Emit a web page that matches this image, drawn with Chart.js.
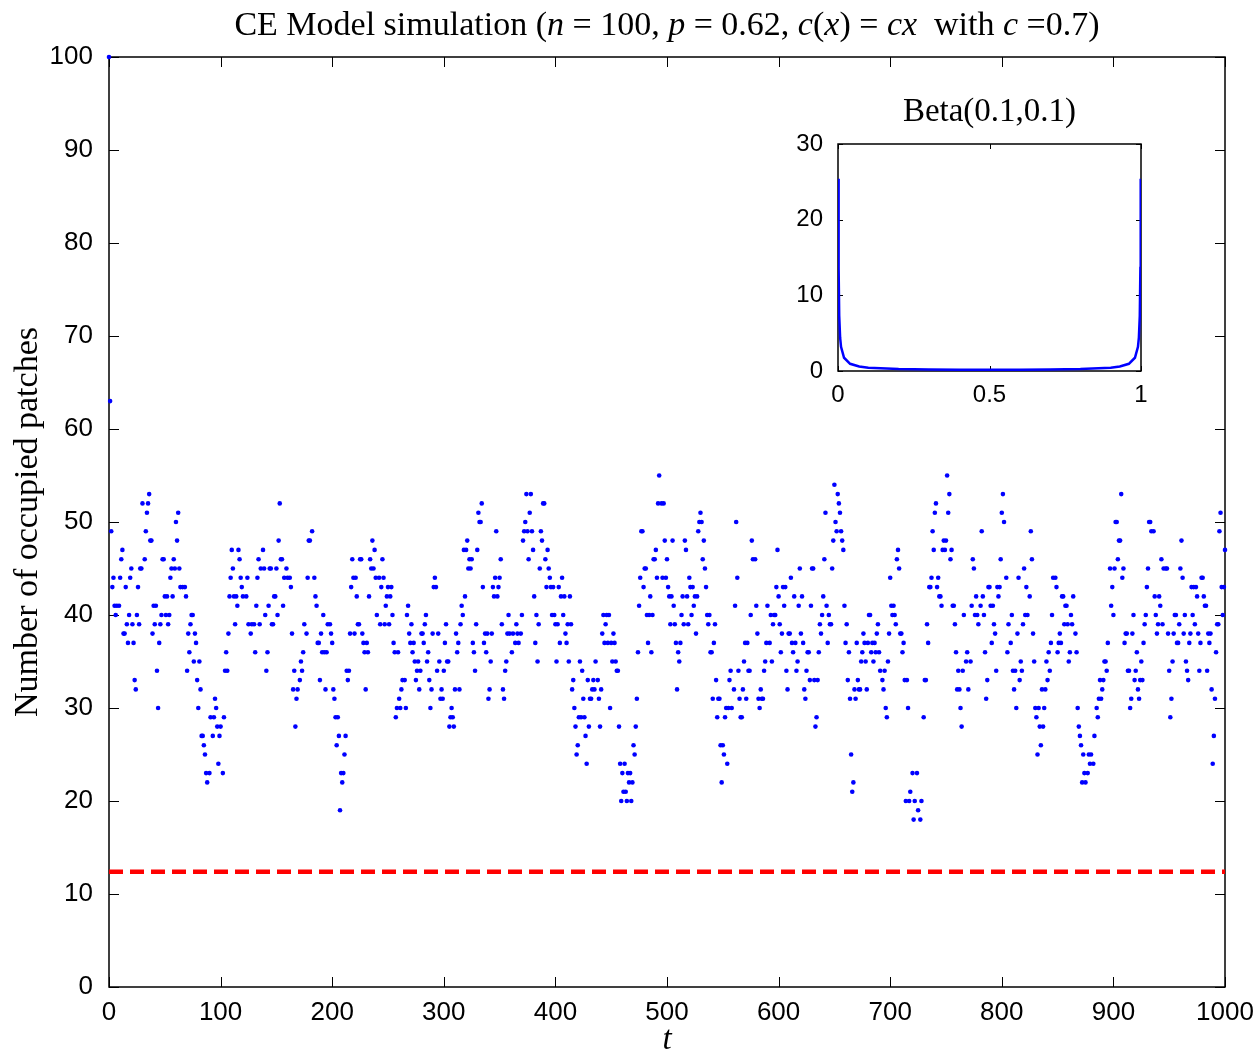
<!DOCTYPE html>
<html>
<head>
<meta charset="utf-8">
<script src="https://cdn.jsdelivr.net/npm/chart.js@4"></script>
<style>
  body { margin: 0; background: #fff; }
  #wrap { position: relative; width: 1260px; height: 1054px; }
  #main { position: absolute; left: 0; top: 0; }
  #inset { position: absolute; left: 760px; top: 85px; }
  #title {
    position: absolute; left: 109px; width: 1116px; top: 4px;
    text-align: center; font-family: "Liberation Serif", serif; font-size: 34px;
    line-height: 40px; color: #000; white-space: nowrap;
  }
  #insetTitle {
    position: absolute; left: 838px; width: 303px; top: 90px;
    text-align: center; font-family: "Liberation Serif", serif; font-size: 33px;
    line-height: 40px; color: #000; white-space: nowrap;
  }
</style>
</head>
<body>
<div id="wrap">
  <canvas id="main" width="1260" height="1054"></canvas>
  <canvas id="inset" width="420" height="330"></canvas>
  <div id="title">CE Model simulation (<i>n</i> = 100, <i>p</i> = 0.62, <i>c</i>(<i>x</i>) = <i>cx</i>&nbsp; with <i>c</i> =0.7)</div>
  <div id="insetTitle">Beta(0.1,0.1)</div>
</div>
<script>
// number of occupied patches at each step t (index = t), null where no dot could be read
const occupied = [
  100,63,49,43,44,41,40,41,null,41,44,46,47,38,38,43,39,37,40,44,      // 0
  45,39,37,33,32,40,43,39,45,45,52,null,46,49,51,52,53,48,48,38,       // 20
  41,39,41,34,30,37,39,40,46,46,42,40,42,39,40,44,45,42,46,45,         // 40
  50,48,51,45,43,null,43,null,43,42,34,38,36,39,40,40,35,38,37,33,     // 60
  30,35,32,27,27,26,25,23,22,null,23,29,null,27,29,31,30,28,24,27,     // 80
  28,null,23,29,34,36,34,38,42,44,47,45,42,39,42,41,47,46,44,43,       // 100
  42,null,null,42,44,39,null,38,39,null,39,36,41,44,46,39,45,null,47,45, // 120
  40,34,36,41,45,45,39,39,42,42,45,40,48,52,46,46,41,44,null,45,       // 140
  44,null,44,43,38,32,34,28,31,32,null,33,35,34,36,39,null,38,44,48,   // 160
  48,null,49,null,44,42,41,37,37,33,38,36,40,36,32,36,39,null,39,38,   // 180
  37,32,31,29,26,29,27,19,23,22,23,25,27,34,33,34,38,43,46,44,         // 200
  38,44,42,39,39,46,46,38,37,36,32,37,36,42,46,45,48,45,47,44,         // 220
  40,null,44,39,43,46,44,39,41,42,43,39,42,43,40,37,36,29,30,36,       // 240
  31,30,32,33,null,33,30,40,41,38,37,39,36,37,35,33,34,35,32,34,       // 260
  38,38,37,39,40,35,36,33,30,32,38,43,44,43,34,38,35,31,32,31,         // 280
  34,37,39,35,35,28,29,30,29,28,32,38,36,37,32,39,41,40,47,42,         // 300
  47,48,45,46,45,46,37,36,34,39,47,51,50,50,52,43,37,38,36,38,         // 320
  31,32,35,38,43,42,44,49,42,43,44,46,39,32,31,34,35,38,40,38,         // 340
  null,36,38,null,37,39,38,37,null,38,40,48,49,50,53,49,46,51,53,49,   // 360
  47,42,37,40,35,39,45,49,48,52,52,46,43,47,45,44,43,40,43,40,         // 380
  39,35,39,43,37,42,44,40,42,38,37,39,35,42,39,32,33,30,28,25,         // 400
  26,29,35,29,34,31,29,27,24,33,28,31,31,32,33,32,35,null,33,31,       // 420
  28,32,38,40,37,39,40,37,40,30,37,35,38,37,35,34,34,28,24,20,         // 440
  23,21,24,21,20,23,22,23,20,22,26,25,28,31,36,41,44,49,49,43,         // 460
  45,45,40,37,40,42,36,40,46,46,47,44,52,55,null,52,44,52,48,44,       // 480
  46,43,42,39,42,48,41,39,37,32,36,35,37,40,42,39,48,47,42,39,         // 500
  44,43,40,43,41,42,38,42,49,50,51,50,46,48,45,43,40,39,40,36,         // 520
  36,31,37,39,33,29,31,31,26,22,26,25,29,30,24,30,33,34,30,null,       // 540
  32,41,50,44,34,31,29,29,32,35,37,31,37,34,34,40,48,46,null,46,       // 560
  41,38,31,30,32,31,31,34,35,37,41,null,37,40,35,39,40,40,43,47,       // 580
  42,39,36,38,43,41,43,34,32,38,38,44,37,36,42,37,34,35,41,45,         // 600
  38,42,37,32,31,34,36,36,33,41,45,45,33,28,29,33,36,39,38,40,         // 620
  42,46,51,41,37,40,39,39,45,48,54,50,49,53,52,51,49,48,47,41,         // 640
  37,39,33,36,31,25,21,22,32,31,37,33,32,32,35,36,38,37,35,32,         // 660
  37,40,40,36,37,35,37,36,38,39,36,34,null,33,32,34,30,29,35,38,       // 680
  44,41,40,41,40,39,46,47,45,38,38,36,37,33,20,33,30,20,21,null,       // 700
  23,18,20,null,23,19,null,18,20,null,29,33,33,39,37,43,43,44,49,47,   // 720
  51,52,43,44,42,42,41,47,48,47,48,55,51,53,46,47,41,41,39,36,         // 740
  32,34,32,30,28,34,40,null,35,36,32,null,35,41,46,45,40,42,40,39,     // 760
  null,41,49,42,40,36,31,33,43,43,41,37,41,39,38,34,43,42,43,46,       // 780
  51,53,50,null,44,36,39,null,37,40,34,32,34,30,38,44,33,35,34,39,     // 800
  45,40,43,40,null,42,49,46,38,35,30,29,25,30,28,26,32,28,30,32,       // 820
  35,33,36,34,37,40,44,null,44,43,36,37,38,37,42,42,39,41,41,39,       // 840
  35,36,40,39,42,null,38,36,30,28,27,26,22,25,23,22,null,23,25,24,     // 860
  25,null,24,27,null,30,29,31,33,31,32,33,35,35,34,37,null,45,41,43,   // 880
  40,45,50,50,46,48,48,53,44,45,37,38,38,34,34,30,31,38,40,33,         // 900
  34,36,32,31,33,35,33,37,39,40,43,45,50,50,49,null,49,42,40,38,       // 920
  39,42,41,46,39,45,null,45,45,38,34,29,31,35,38,40,40,37,37,39,       // 940
  45,48,44,38,40,35,34,33,37,38,43,40,43,39,43,42,38,34,37,44,         // 960
  44,42,41,41,34,38,37,38,32,24,27,31,36,39,39,49,51,43,40,43,         // 980
  47                                                                  // 1000
];
const threshold = 12.4;     // red dashed level
const tMax = 1000;
const xTickStep = 100;
const yTickStep = 10;

// inset: Beta(0.1,0.1) density
const betaX = [0.001,0.002,0.004,0.007,0.01,0.02,0.04,0.07,0.1,0.2,0.3,0.4,0.5,0.6,0.7,0.8,0.9,0.93,0.96,0.98,0.99,0.993,0.996,0.998,0.999];
const betaY = [25.4,13.6,7.3,4.4,3.2,1.75,0.95,0.59,0.44,0.26,0.21,0.18,0.18,0.18,0.21,0.26,0.44,0.59,0.95,1.75,3.2,4.4,7.3,13.6,25.4];

const sans = "'Liberation Sans', Arial, sans-serif";
const serif = "'Liberation Serif', serif";
const plain = v => String(v);

// MATLAB style box with inward ticks on all four sides
const boxTicks = {
  id: 'boxTicks',
  beforeDatasetsDraw(chart, args, opts) {
    const {ctx, chartArea: a, scales: {x, y}} = chart;
    const len = opts.len;
    ctx.save();
    ctx.strokeStyle = '#000';
    ctx.lineWidth = 1;
    ctx.beginPath();
    x.ticks.forEach(t => {
      const px = Math.round(x.getPixelForValue(t.value)) + 0.5;
      ctx.moveTo(px, a.bottom); ctx.lineTo(px, a.bottom - len);
      ctx.moveTo(px, a.top); ctx.lineTo(px, a.top + len);
    });
    y.ticks.forEach(t => {
      const py = Math.round(y.getPixelForValue(t.value)) + 0.5;
      ctx.moveTo(a.left, py); ctx.lineTo(a.left + len, py);
      ctx.moveTo(a.right, py); ctx.lineTo(a.right - len, py);
    });
    ctx.stroke();
    ctx.lineWidth = opts.frame;
    ctx.strokeRect(a.left, a.top, a.right - a.left, a.bottom - a.top);
    ctx.restore();
  }
};

const points = [];
occupied.forEach((v, t) => { if (v !== null) points.push({x: t, y: v}); });

new Chart('main', {
  type: 'scatter',
  data: {
    datasets: [{
      data: points,
      backgroundColor: '#0000ff',
      borderWidth: 0,
      pointRadius: 2.3,
      clip: false
    }, {
      type: 'line',
      data: [{x: 0, y: threshold}, {x: tMax, y: threshold}],
      borderColor: '#ff0000',
      borderWidth: 4.5,
      borderDash: [14, 7],
      pointRadius: 0
    }]
  },
  options: {
    responsive: false,
    animation: false,
    devicePixelRatio: 1,
    layout: {padding: {top: 57, right: 35, left: 0, bottom: 0}},
    plugins: {legend: {display: false}, tooltip: {enabled: false}, boxTicks: {len: 10, frame: 1.5}},
    scales: {
      x: {
        type: 'linear', min: 0, max: tMax,
        grid: {display: false},
        border: {display: false},
        ticks: {stepSize: xTickStep, color: '#000', font: {family: sans, size: 26}, padding: 2, maxRotation: 0, callback: plain},
        title: {display: true, text: 't', color: '#000', font: {family: serif, size: 33, style: 'italic', lineHeight: 0.8}, padding: {top: 0, bottom: 0}},
        afterFit(s) { s.height = 67; }
      },
      y: {
        min: 0, max: 100,
        grid: {display: false},
        border: {display: false},
        ticks: {stepSize: yTickStep, color: '#000', font: {family: sans, size: 26}, padding: 8, callback: plain},
        title: {display: true, text: 'Number of occupied patches', color: '#000', font: {family: serif, size: 34, lineHeight: 1}, padding: {top: 11, bottom: 0}},
        afterFit(s) { s.width = 109; }
      }
    }
  },
  plugins: [boxTicks]
});

new Chart('inset', {
  type: 'line',
  data: {
    datasets: [{
      data: betaX.map((x, i) => ({x: x, y: betaY[i]})),
      borderColor: '#0000ff',
      borderWidth: 2.5,
      pointRadius: 0,
      tension: 0
    }]
  },
  options: {
    responsive: false,
    animation: false,
    devicePixelRatio: 1,
    layout: {padding: {top: 59, right: 39, left: 0, bottom: 0}},
    plugins: {
      legend: {display: false}, tooltip: {enabled: false},
      boxTicks: {len: 5, frame: 1.5}
    },
    scales: {
      x: {
        type: 'linear', min: 0, max: 1,
        grid: {display: false}, border: {display: false},
        ticks: {stepSize: 0.5, color: '#000', font: {family: sans, size: 24}, padding: 2, maxRotation: 0, callback: plain},
        afterFit(s) { s.height = 44; }
      },
      y: {
        min: 0, max: 30,
        grid: {display: false}, border: {display: false},
        ticks: {stepSize: 10, color: '#000', font: {family: sans, size: 24}, padding: 7, callback: plain},
        afterFit(s) { s.width = 78; }
      }
    }
  },
  plugins: [boxTicks]
});
</script>
</body>
</html>
